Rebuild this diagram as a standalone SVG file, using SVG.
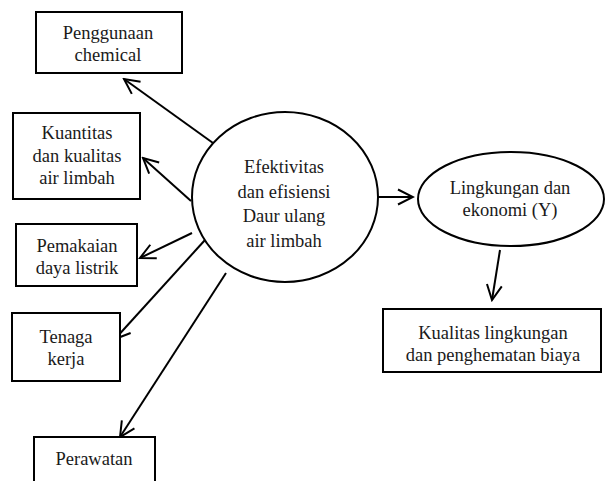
<svg xmlns="http://www.w3.org/2000/svg" width="606" height="481" viewBox="0 0 606 481">
<style>
.box{fill:#fff;stroke:#000;stroke-width:2}
.ell{fill:#fff;stroke:#000;stroke-width:2}
.t{font-family:"Liberation Serif","Times New Roman",serif;font-size:18.5px;fill:#1a1a1a;text-anchor:middle}
.c{stroke:#000;stroke-width:2;fill:none;marker-end:url(#ah)}
</style>
<defs>
<marker id="ah" markerUnits="userSpaceOnUse" viewBox="-18 -10 20 20" refX="0" refY="0" markerWidth="20" markerHeight="20" orient="auto">
<path d="M-15,-7.5 L0,0 L-15,7.5" fill="none" stroke="#000" stroke-width="2"/>
</marker>
</defs>
<g id="connectors">
<line class="c" x1="213" y1="143" x2="124" y2="79"/>
<line class="c" x1="191" y1="201" x2="143" y2="158"/>
<line class="c" x1="192" y1="233" x2="140" y2="258"/>
<line class="c" x1="205" y1="240" x2="115" y2="339"/>
<line class="c" x1="226" y1="273" x2="120" y2="437"/>
<line class="c" x1="378" y1="197" x2="413" y2="197"/>
<line class="c" x1="500" y1="250" x2="492" y2="300"/>
</g>
<g id="n1">
<rect class="box" x="36" y="12" width="146" height="61"/>
<text class="t" x="108" y="39">Penggunaan</text>
<text class="t" x="108" y="61">chemical</text>
</g>
<g id="n2">
<rect class="box" x="13" y="113" width="127" height="86"/>
<text class="t" x="77" y="139">Kuantitas</text>
<text class="t" x="77" y="162">dan kualitas</text>
<text class="t" x="77" y="184">air limbah</text>
</g>
<g id="n3">
<rect class="box" x="16" y="224" width="121" height="62"/>
<text class="t" x="77" y="252">Pemakaian</text>
<text class="t" x="77" y="274">daya listrik</text>
</g>
<g id="n4">
<rect class="box" x="12" y="313" width="108" height="68"/>
<text class="t" x="66" y="343">Tenaga</text>
<text class="t" x="66" y="365">kerja</text>
</g>
<g id="n5">
<rect class="box" x="34" y="437" width="121" height="60"/>
<text class="t" x="94" y="465">Perawatan</text>
</g>
<g id="center">
<ellipse class="ell" cx="285" cy="197" rx="93" ry="85"/>
<text class="t" x="284" y="173">Efektivitas</text>
<text class="t" x="284" y="198">dan efisiensi</text>
<text class="t" x="284" y="222">Daur ulang</text>
<text class="t" x="284" y="247">air limbah</text>
</g>
<g id="y">
<ellipse class="ell" cx="511" cy="199" rx="93" ry="47"/>
<text class="t" x="510" y="194">Lingkungan dan</text>
<text class="t" x="510" y="216">ekonomi (Y)</text>
</g>
<g id="n6">
<rect class="box" x="383" y="309" width="218" height="63"/>
<text class="t" x="493" y="339">Kualitas lingkungan</text>
<text class="t" x="493" y="361">dan penghematan biaya</text>
</g>
</svg>
